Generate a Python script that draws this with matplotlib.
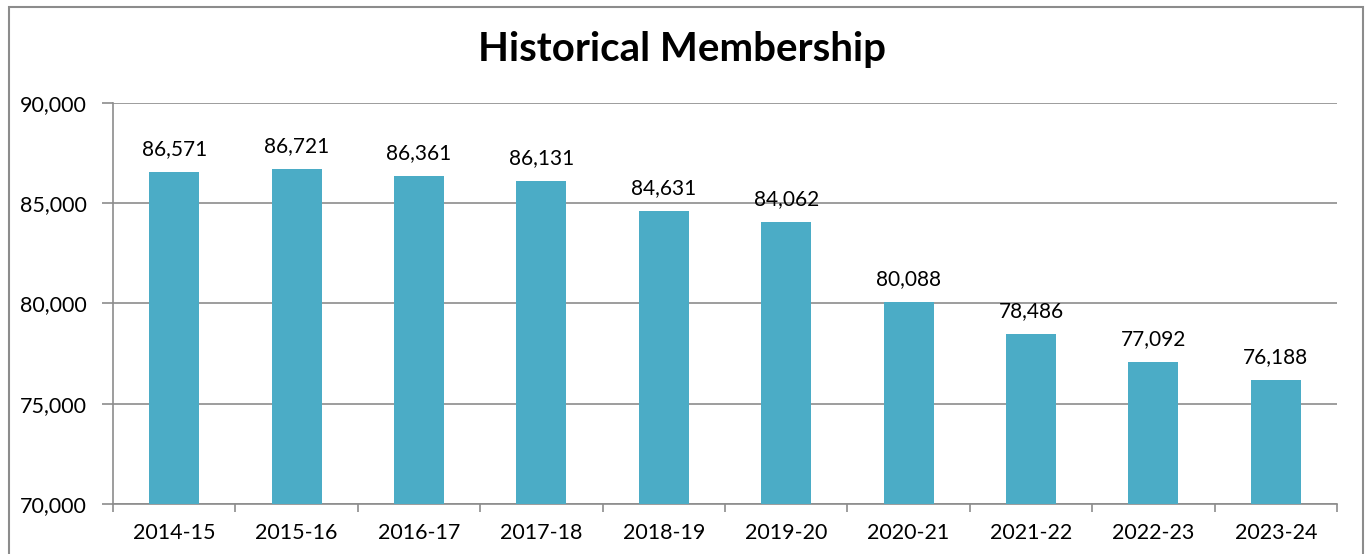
import matplotlib.pyplot as plt
from matplotlib.patches import Rectangle
from matplotlib.ticker import FuncFormatter

years = ['2014-15', '2015-16', '2016-17', '2017-18', '2018-19',
         '2019-20', '2020-21', '2021-22', '2022-23', '2023-24']
members = [86571, 86721, 86361, 86131, 84631, 84062, 80088, 78486, 77092, 76188]

plt.rcParams['font.family'] = ['Lato', 'DejaVu Sans']

fig = plt.figure(figsize=(13.65, 5.54), dpi=100)
ax = fig.add_axes([113/1365, 1 - 504/554, (1337-113)/1365, (504-103)/554])

# outer chart border
fig.patches.append(Rectangle((9/1365, -0.05), (1363-9)/1365, 1 - 7/554 + 0.05,
                             transform=fig.transFigure, fill=False,
                             edgecolor='#8c8c8c', linewidth=1.5))

x = range(len(years))
bars = ax.bar(x, members, width=0.41, color='#4BACC6', zorder=3)
for xi, v in zip(x, members):
    ax.annotate(f'{v:,}', (xi, v), xytext=(0, 9), textcoords='offset points',
                ha='center', va='bottom', fontsize=15)

ax.set_ylim(70000, 90000)
ax.set_xlim(-0.5, len(years) - 0.5)
ax.set_yticks([70000, 75000, 80000, 85000, 90000])
ax.yaxis.set_major_formatter(FuncFormatter(lambda v, p: f'{int(v):,}'))
ax.yaxis.grid(True, color='#8c8c8c', linewidth=1.2, zorder=0)

ax.set_xticks(list(x))
ax.set_xticklabels(years)
ax.set_xticks([i - 0.5 for i in range(len(years) + 1)], minor=True)
ax.tick_params(axis='x', which='major', length=0, pad=14, labelsize=15.5)
ax.tick_params(axis='x', which='minor', length=6, color='#8c8c8c', width=1.2)
ax.tick_params(axis='y', length=8, color='#8c8c8c', width=1.2, pad=11, labelsize=15.5)

for s in ['top', 'right']:
    ax.spines[s].set_visible(False)
for s in ['left', 'bottom']:
    ax.spines[s].set_color('#8c8c8c')
    ax.spines[s].set_linewidth(1.2)

fig.text(0.5, 1 - 50/554, 'Historical Membership', ha='center', va='center',
         fontsize=29, fontweight='bold')

fig.savefig('out.png', dpi=100)
